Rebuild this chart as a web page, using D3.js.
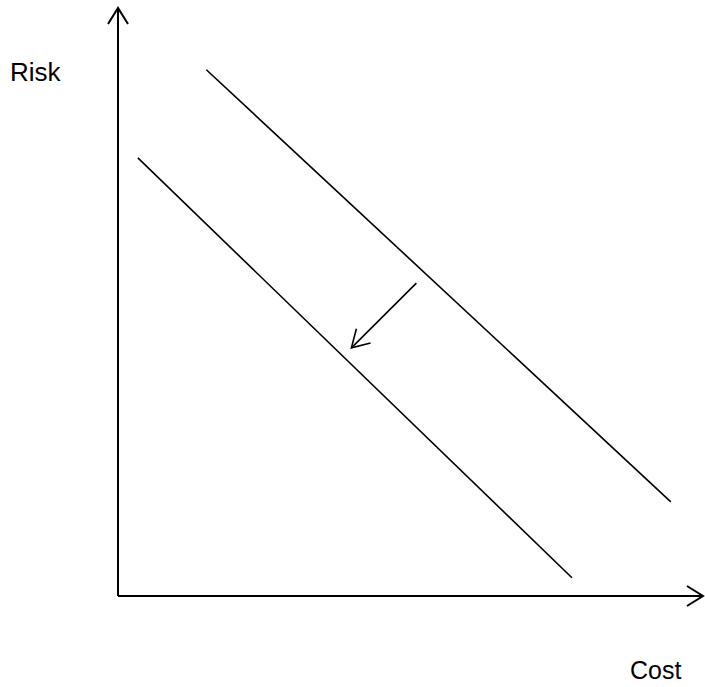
<!DOCTYPE html>
<html>
<head>
<meta charset="utf-8">
<script src="https://cdn.jsdelivr.net/npm/d3@7"></script>
<style>
  html, body { margin: 0; padding: 0; background: #fff; }
  svg { display: block; }
</style>
</head>
<body>
<svg id="chart" width="705" height="687"></svg>
<script>
// Data (abstract units: x = Cost, y = Risk, both 0..100)
const axisLabels = ["Cost", "Risk"];
const curveNames = ["Before", "After"];
const curveBefore = [[15.1, 89.5], [94.5, 16.0]];
const curveAfter = [[3.4, 74.5], [77.6, 3.1]];
const shiftArrow = [[51.0, 53.2], [39.9, 42.2]];
const xDomain = [0, 100];
const yDomain = [0, 100];

const svg = d3.select("#chart");
const x = d3.scaleLinear().domain(xDomain).range([118, 703]);
const y = d3.scaleLinear().domain(yDomain).range([596, 8]);

const defs = svg.append("defs");
function marker(id, len, half, sw) {
  defs.append("marker")
    .attr("id", id)
    .attr("markerUnits", "userSpaceOnUse")
    .attr("viewBox", "-25 -15 30 30")
    .attr("refX", 0).attr("refY", 0)
    .attr("markerWidth", 30).attr("markerHeight", 30)
    .attr("orient", "auto")
    .append("path")
    .attr("d", `M${-len},${-half} L0,0 L${-len},${half}`)
    .attr("fill", "none")
    .attr("stroke", "#000")
    .attr("stroke-width", sw)
    .attr("stroke-linejoin", "miter");
}
marker("axisHead", 16, 10, 2);
marker("shiftHead", 17, 10, 1.6);

const line = d3.line().x(d => x(d[0])).y(d => y(d[1]));

// Axes
svg.append("path")
  .datum([[xDomain[0], yDomain[0]], [xDomain[1], yDomain[0]]])
  .attr("d", line)
  .attr("stroke", "#000").attr("stroke-width", 2).attr("fill", "none")
  .attr("marker-end", "url(#axisHead)");
svg.append("path")
  .datum([[xDomain[0], yDomain[0]], [xDomain[0], yDomain[1]]])
  .attr("d", line)
  .attr("stroke", "#000").attr("stroke-width", 2).attr("fill", "none")
  .attr("marker-end", "url(#axisHead)");

// Curves
svg.selectAll("path.curve")
  .data([curveBefore, curveAfter])
  .join("path")
  .attr("class", "curve")
  .attr("d", line)
  .attr("stroke", "#000").attr("stroke-width", 1.6).attr("fill", "none");

// Shift arrow
svg.append("path")
  .datum(shiftArrow)
  .attr("d", line)
  .attr("stroke", "#000").attr("stroke-width", 1.6).attr("fill", "none")
  .attr("marker-end", "url(#shiftHead)");

// Labels
svg.append("text")
  .attr("x", 10).attr("y", 81)
  .attr("font-family", "Liberation Sans, Arial, sans-serif")
  .attr("font-size", 26)
  .attr("fill", "#000")
  .text(axisLabels[1]);
svg.append("text")
  .attr("x", 630).attr("y", 679)
  .attr("font-family", "Liberation Sans, Arial, sans-serif")
  .attr("font-size", 25)
  .attr("fill", "#000")
  .text(axisLabels[0]);
</script>
</body>
</html>
